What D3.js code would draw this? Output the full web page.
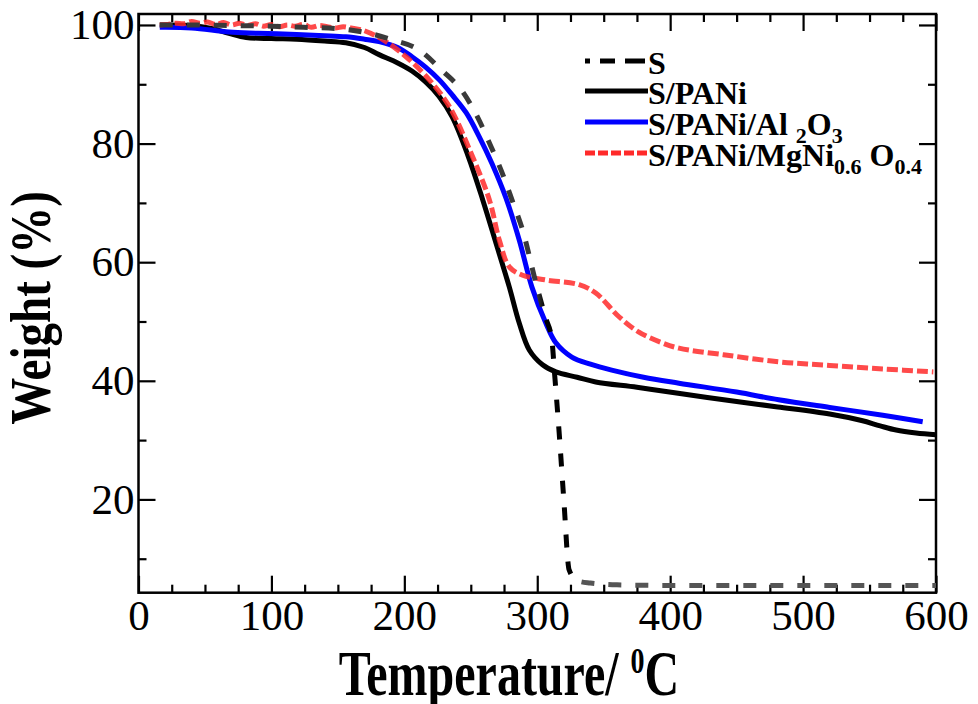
<!DOCTYPE html>
<html>
<head>
<meta charset="utf-8">
<script src="https://cdn.jsdelivr.net/npm/d3@7/dist/d3.min.js"></script>
<style>
  body { margin: 0; background: #fff; }
  .axis path, .axis line { stroke: #000; stroke-width: 2.2; }
  .axis text { font-family: "Liberation Serif", "Times New Roman", serif; font-size: 43px; fill: #000; }
  .title { font-family: "Liberation Serif", "Times New Roman", serif; font-weight: bold; fill: #000; }
  .legend text { font-family: "Liberation Serif", "Times New Roman", serif; font-weight: bold; font-size: 32px; fill: #000; }
</style>
</head>
<body>
<svg id="chart" width="978" height="704"></svg>
<script>
// TGA data: [temperature (C), weight (%)]
var sulfur = [[16,100],[40,100],[70,99.9],[100,99.8],[124,99.6],[149,99.4],[169,98.8],[191,97.5],
  [211,95.8],[228,92.4],[244,88.7],[255,84.5],[265,79.6],[273,75.4],[281,70.5],[289,65.4],
  [299,56.5],[306,50.8],[311,46.9],[313,41.3],[316.5,31.2],[320,19.9],[324,8.1],[330,6.3],
  [340,5.9],[360,5.6],[400,5.5],[500,5.5],[600,5.5]];

var sPani = [[16,100],[40,99.9],[55,99.4],[68,98.6],[81,97.9],[100,97.7],[119,97.6],[140,97.3],
  [156,97],[170,96.2],[181,95],[195,93.6],[206,92.2],[216,90.4],[226,88],[236,84.5],
  [248,77.9],[259,70.5],[269,63.2],[279,55.8],[286.5,49.7],[294,45.2],[304,42.7],[314,41.5],
  [330,40.6],[344,39.8],[375,38.9],[406,37.9],[450,36.5],[481,35.6],[520,34.4],[544,33.3],
  [558,32.4],[570,31.7],[585,31.2],[600,30.9]];

var sPaniAl = [[16,99.6],[40,99.5],[68,98.8],[90,98.6],[119,98.4],[140,98.2],[156,98],[170,97.6],
  [181,97.2],[195,96.2],[206,94.6],[216,92.9],[226.5,90.7],[236,88.2],[246.5,85.2],[256,81.3],
  [266,76.6],[276.5,70.8],[286.5,63.7],[296,55.8],[306.5,49.7],[314,46.4],[326,44],[340,42.8],
  [356,41.8],[380,40.6],[406.6,39.6],[450,38.1],[481.6,36.8],[520,35.5],[560,34.2],[590,33.1]];

var sPaniMg = [[16,100],[22,100.1],[28,100.3],[34,100.2],[40,100.6],[46,100.3],[52,100.5],[58,100.1],
  [64,100.4],[70,100],[76,100.3],[82,99.9],[88,100.2],[94,99.8],[100,100.1],[106,99.7],[112,100],
  [118,99.8],[124,100.1],[130,99.6],[136,99.9],[142,99.7],[148,99.5],[154,99.7],[160,99.5],
  [169,99.1],[184,97.5],[201.5,94.6],[219,90.7],[234,86.2],[250,78.5],[264,70.5],[271.5,63.7],
  [279,59.2],[289,57.8],[306.5,57],[331.5,56.2],[344,54.8],[361.5,50.8],[376.5,48.2],[394,46.4],
  [406.6,45.5],[440,44.4],[481.6,43.2],[520,42.6],[560,42],[598,41.5]];

var xTicks = [0, 100, 200, 300, 400, 500, 600];
var yTicks = [20, 40, 60, 80, 100];

var svg = d3.select("#chart");
var pLeft = 138.5, pRight = 936, pTop = 14, pBottom = 592.7;

var x = d3.scaleLinear().domain([0, 600]).range([pLeft, pRight]);
var y = d3.scaleLinear().domain([4.27, 101.85]).range([pBottom, pTop]);

var xMinor = d3.range(0, 601, 25).filter(function(d) { return d % 100 != 0; });
var yMinor = d3.range(10, 101, 20);

// axes, ticks pointing inwards on all four sides
svg.append("g").attr("class", "axis")
  .attr("transform", "translate(0," + pBottom + ")")
  .call(d3.axisBottom(x).tickValues(xTicks).tickSize(-17).tickPadding(7).tickSizeOuter(0));
svg.append("g").attr("class", "axis")
  .attr("transform", "translate(0," + pBottom + ")")
  .call(d3.axisBottom(x).tickValues(xMinor).tickSize(-8).tickFormat("").tickSizeOuter(0));
svg.append("g").attr("class", "axis")
  .attr("transform", "translate(0," + pTop + ")")
  .call(d3.axisTop(x).tickValues(xTicks).tickSize(-17).tickFormat("").tickSizeOuter(0));
svg.append("g").attr("class", "axis")
  .attr("transform", "translate(0," + pTop + ")")
  .call(d3.axisTop(x).tickValues(xMinor).tickSize(-8).tickFormat("").tickSizeOuter(0));

svg.append("g").attr("class", "axis")
  .attr("transform", "translate(" + pLeft + ",0)")
  .call(d3.axisLeft(y).tickValues(yTicks).tickSize(-17).tickPadding(4).tickSizeOuter(0));
svg.append("g").attr("class", "axis")
  .attr("transform", "translate(" + pLeft + ",0)")
  .call(d3.axisLeft(y).tickValues(yMinor).tickSize(-8).tickFormat("").tickSizeOuter(0));
svg.append("g").attr("class", "axis")
  .attr("transform", "translate(" + pRight + ",0)")
  .call(d3.axisRight(y).tickValues(yTicks).tickSize(-17).tickFormat("").tickSizeOuter(0));
svg.append("g").attr("class", "axis")
  .attr("transform", "translate(" + pRight + ",0)")
  .call(d3.axisRight(y).tickValues(yMinor).tickSize(-8).tickFormat("").tickSizeOuter(0));

svg.selectAll(".axis path.domain").remove();
svg.append("rect")
  .attr("x", pLeft).attr("y", pTop)
  .attr("width", pRight - pLeft).attr("height", pBottom - pTop)
  .attr("fill", "none").attr("stroke", "#000").attr("stroke-width", 2.5);

// S is grey where flat, black on the steep drop
var grad = svg.append("defs").append("linearGradient")
  .attr("id", "sGrad").attr("gradientUnits", "userSpaceOnUse")
  .attr("x1", x(0)).attr("x2", x(600)).attr("y1", 0).attr("y2", 0);
[[0, "#3a3a3a"], [300, "#3a3a3a"], [306, "#000"], [326, "#000"], [330, "#555"], [600, "#555"]]
  .forEach(function(s) {
    grad.append("stop").attr("offset", s[0] / 600).attr("stop-color", s[1]);
  });

// curves
var smooth = d3.line()
  .x(function(d) { return x(d[0]); })
  .y(function(d) { return y(d[1]); })
  .curve(d3.curveCatmullRom.alpha(0.5));
var mono = d3.line()
  .x(function(d) { return x(d[0]); })
  .y(function(d) { return y(d[1]); })
  .curve(d3.curveMonotoneX);

var series = [
  {data: sPani, color: "#000", dash: null, opacity: 1, line: smooth},
  {data: sPaniAl, color: "#0000ff", dash: null, opacity: 1, line: smooth},
  {data: sPaniMg, color: "#ff2a2a", dash: "11,4", opacity: 0.85, line: smooth},
  {data: sulfur, color: "url(#sGrad)", dash: "13,14", opacity: 1, line: mono}
];

svg.append("g").selectAll("path")
  .data(series).enter()
  .append("path")
  .attr("d", function(d) { return d.line(d.data); })
  .attr("fill", "none")
  .attr("stroke", function(d) { return d.color; })
  .attr("stroke-width", 5)
  .attr("stroke-dasharray", function(d) { return d.dash; })
  .attr("opacity", function(d) { return d.opacity; });

// legend
var legend = svg.append("g").attr("class", "legend");
var legendRows = [
  {y: 61, color: "#000", dash: "5,10,15,10,20", parts: [["S", 0]]},
  {y: 91, color: "#000", dash: null, parts: [["S/PANi", 0]]},
  {y: 122, color: "#0000ff", dash: null, parts: [["S/PANi/Al ", 0], ["2", 1], ["O", 0], ["3", 1]]},
  {y: 153, color: "#ff2a2a", dash: "10,3", parts: [["S/PANi/MgNi", 0], ["0.6", 1], [" O", 0], ["0.4", 1]]}
];
legendRows.forEach(function(r) {
  legend.append("line")
    .attr("x1", 585).attr("x2", 648)
    .attr("y1", r.y).attr("y2", r.y)
    .attr("stroke", r.color).attr("stroke-width", 5)
    .attr("stroke-dasharray", r.dash);
  var t = legend.append("text").attr("x", 648).attr("y", r.y + 13);
  var shift = 0;
  r.parts.forEach(function(p) {
    var dy = p[1] ? 8 - shift : -shift;
    shift = p[1] ? 8 : 0;
    t.append("tspan")
      .attr("dy", dy)
      .style("font-size", p[1] ? "22px" : "32px")
      .text(p[0]);
  });
});

// axis titles
var xt = svg.append("g").attr("transform", "translate(509,695) scale(1,1.3)");
var xText = xt.append("text").attr("class", "title")
  .attr("text-anchor", "middle").style("font-size", "48px");
xText.append("tspan").text("Temperature/ ");
xText.append("tspan").attr("dy", -17).style("font-size", "28px").text("0");
xText.append("tspan").attr("dy", 17).text("C");

svg.append("g").attr("transform", "translate(50,308) rotate(-90) scale(1,1.2)")
  .append("text").attr("class", "title")
  .attr("text-anchor", "middle").style("font-size", "47px")
  .text("Weight (%)");
</script>
</body>
</html>
